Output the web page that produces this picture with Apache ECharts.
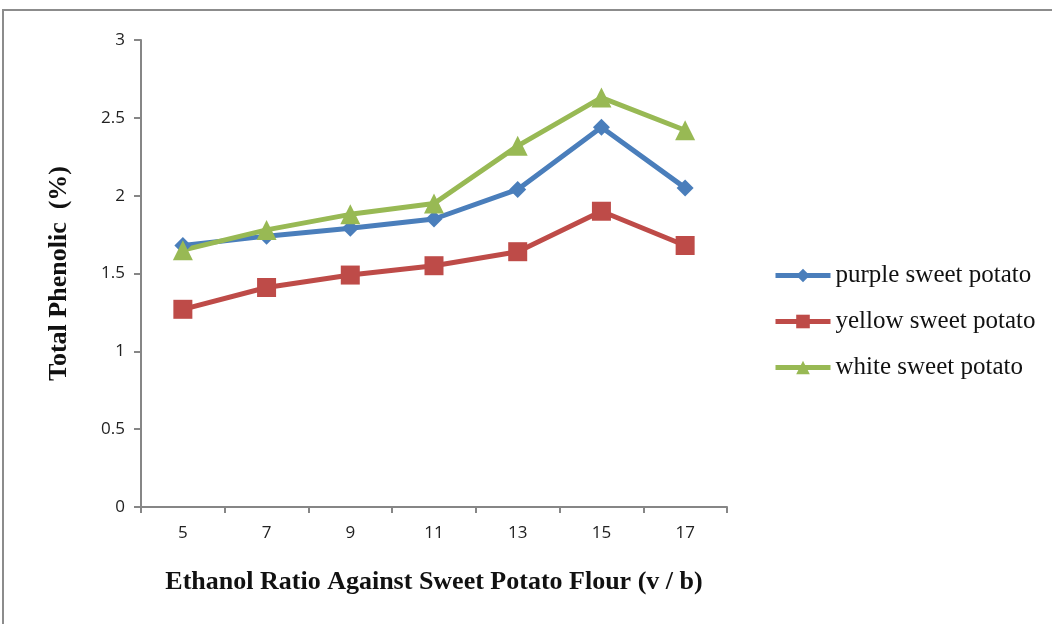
<!DOCTYPE html>
<html>
<head>
<meta charset="utf-8">
<script src="https://cdn.jsdelivr.net/npm/echarts@6/dist/echarts.min.js"></script>
<style>
  html, body { margin: 0; padding: 0; background: #fff; }
  #chart { width: 1052px; height: 624px; }
</style>
</head>
<body>
<div id="chart"></div>
<script>
// Ethanol : flour ratios (v / b)
const ratios = ['5', '7', '9', '11', '13', '15', '17'];
// Total phenolic content (%) per sweet potato variety
const purple = [1.68, 1.74, 1.79, 1.85, 2.04, 2.44, 2.05];
const yellow = [1.27, 1.41, 1.49, 1.55, 1.64, 1.90, 1.68];
const white = [1.65, 1.78, 1.88, 1.95, 2.32, 2.63, 2.42];
const seriesNames = ['purple sweet potato', 'yellow sweet potato', 'white sweet potato'];

const chart = echarts.init(document.getElementById('chart'));
const axisGray = '#868686';

function lineSeries(name, data, color, symbol, size) {
  return {
    name: name,
    type: 'line',
    data: data,
    symbol: symbol,
    symbolSize: size,
    itemStyle: { color: color },
    lineStyle: { color: color, width: 5 },
    emphasis: { disabled: true }
  };
}

chart.setOption({
  animation: false,
  graphic: [{
    type: 'polyline',
    shape: { points: [[3, 624], [3, 10], [1052, 10]] },
    style: { stroke: '#8c8c8c', lineWidth: 2, fill: null }
  }],
  grid: { left: 141, right: 325, top: 40, bottom: 117 },
  legend: {
    orient: 'vertical',
    left: 768,
    top: 258,
    itemGap: 21,
    itemWidth: 55,
    itemHeight: 17,
    lineStyle: { width: 5 },
    textStyle: { fontFamily: 'Liberation Serif', fontSize: 25, color: '#111' },
    data: seriesNames
  },
  xAxis: {
    type: 'category',
    data: ratios,
    boundaryGap: true,
    name: 'Ethanol Ratio Against Sweet Potato Flour (v / b)',
    nameLocation: 'middle',
    nameGap: 62,
    nameTextStyle: { fontFamily: 'Liberation Serif', fontWeight: 'bold', fontSize: 26, color: '#111' },
    axisLine: { lineStyle: { color: axisGray, width: 2 } },
    axisTick: { show: true, length: 6, lineStyle: { color: axisGray, width: 2 } },
    axisLabel: { fontFamily: 'Open Sans', fontSize: 17, color: '#222', margin: 18 }
  },
  yAxis: {
    type: 'value',
    min: 0,
    max: 3,
    interval: 0.5,
    name: 'Total Phenolic  (%)',
    nameLocation: 'middle',
    nameRotate: 90,
    nameGap: 69,
    nameTextStyle: { fontFamily: 'Liberation Serif', fontWeight: 'bold', fontSize: 26, color: '#111' },
    splitLine: { show: false },
    axisLine: { show: true, lineStyle: { color: axisGray, width: 2 } },
    axisTick: { show: true, length: 7, lineStyle: { color: axisGray, width: 2 } },
    axisLabel: { fontFamily: 'Open Sans', fontSize: 17, color: '#222', margin: 16 }
  },
  series: [
    lineSeries(seriesNames[0], purple, '#4A7EBB', 'diamond', 17),
    lineSeries(seriesNames[1], yellow, '#BE4B48', 'rect', 19),
    lineSeries(seriesNames[2], white, '#98B954', 'triangle', 20)
  ]
});
</script>
</body>
</html>
